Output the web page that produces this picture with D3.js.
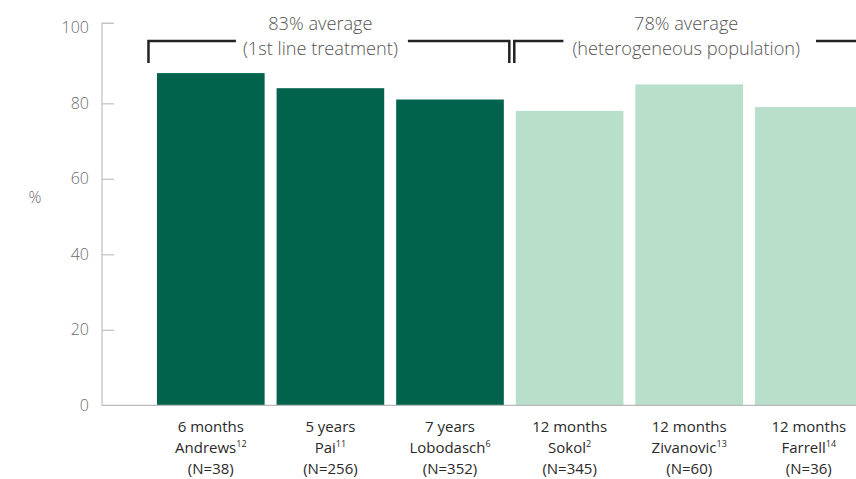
<!DOCTYPE html>
<html>
<head>
<meta charset="utf-8">
<script src="https://cdn.jsdelivr.net/npm/d3@7"></script>
<style>
  html, body { margin: 0; padding: 0; background: #fff; }
  svg { display: block; font-family: "Open Sans", sans-serif; }
</style>
</head>
<body>
<svg id="chart" width="856" height="479"></svg>
<script>
// ---- data ----
const durations = ["6 months", "5 years", "7 years", "12 months", "12 months", "12 months"];
const authors = ["Andrews", "Pai", "Lobodasch", "Sokol", "Zivanovic", "Farrell"];
const refs = ["12", "11", "6", "2", "13", "14"];
const sampleSizes = ["(N=38)", "(N=256)", "(N=352)", "(N=345)", "(N=60)", "(N=36)"];
const values = [88, 84, 81, 78, 85, 79];
const groups = [0, 0, 0, 1, 1, 1];
const yTicks = [0, 20, 40, 60, 80, 100];
const groupTitles = [["83% average", "(1st line treatment)"], ["78% average", "(heterogeneous population)"]];
const yLabel = "%";

// ---- layout ----
const svg = d3.select("#chart");
const colors = ["#02634d", "#b7dfc9"];
const idx = d3.range(values.length);

const x = d3.scaleBand().domain(idx).range([151, 151 + 6 * 119.6]).paddingInner(0.1).paddingOuter(0.05);
const y = d3.scaleLinear().domain([0, 100]).range([405.3, 27.8]);
const axisX = 102;

// bars
svg.append("g").selectAll("rect").data(idx).join("rect")
  .attr("x", i => x(i))
  .attr("y", i => y(values[i]))
  .attr("width", x.bandwidth())
  .attr("height", i => y(0) - y(values[i]))
  .attr("fill", i => colors[groups[i]]);

// y axis
const yAxis = d3.axisLeft(y).tickValues(yTicks).tickSizeInner(-12).tickSizeOuter(0).tickPadding(13);
const gy = svg.append("g").attr("transform", `translate(${axisX},0)`).call(yAxis);
gy.select(".domain").remove();
gy.selectAll(".tick line").attr("stroke", "#c4c4c4").attr("stroke-width", 1.3)
  .filter(d => d === 100 || d === 0).remove();
gy.selectAll(".tick text").attr("fill", "#6b6b6b").attr("font-size", 16).attr("font-weight", 300)
  .attr("font-family", "Open Sans, sans-serif");
gy.append("path").attr("d", `M12,${y(101.2)}H0V${y(0)}`).attr("fill", "none")
  .attr("stroke", "#c4c4c4").attr("stroke-width", 1.3);

// baseline
svg.append("line").attr("x1", axisX).attr("x2", 856).attr("y1", y(0)).attr("y2", y(0))
  .attr("stroke", "#b9b9b9").attr("stroke-width", 1.3);

// y label
svg.append("text").attr("x", 35).attr("y", 203).attr("text-anchor", "middle")
  .attr("font-size", 16).attr("font-weight", 300).attr("fill", "#6b6b6b").text(yLabel);

// x labels
const xl = svg.append("g").selectAll("g").data(idx).join("g")
  .attr("transform", i => `translate(${x(i) + x.bandwidth() / 2},0)`)
  .attr("font-size", 15).attr("fill", "#2a2a2a").attr("text-anchor", "middle");
xl.append("text").attr("y", 432).text(i => durations[i]);
const t2 = xl.append("text").attr("y", 453);
t2.append("tspan").text(i => authors[i]);
t2.append("tspan").attr("font-size", 9).attr("dy", -6).text(i => refs[i]);
xl.append("text").attr("y", 473.5).text(i => sampleSizes[i]);

// group brackets
const lineY = 41, tickBottom = 63;
const bracket = svg.append("g").attr("fill", "none").attr("stroke", "#222").attr("stroke-width", 2.5);
const hdr = svg.append("g").attr("font-size", 18.2).attr("font-weight", 300).attr("fill", "#555").attr("text-anchor", "middle");

function drawGroup(g, left, right, cx, gapL, gapR) {
  const t1 = hdr.append("text").attr("x", cx).attr("y", 30).text(groupTitles[g][0]);
  const t2 = hdr.append("text").attr("x", cx).attr("y", 55).text(groupTitles[g][1]);
  const w = Math.max(t1.node().getComputedTextLength(), t2.node().getComputedTextLength());
  bracket.append("path").attr("d", `M${left},${tickBottom}V${lineY}H${cx - w / 2 - gapL}`);
  bracket.append("path").attr("d", `M${cx + w / 2 + gapR},${lineY}H${right}` + (right < 856 ? `V${tickBottom}` : ""));
}
drawGroup(0, x(0) - 8.5, x(2) + x.bandwidth() + 5.5, x(1) + x.bandwidth() / 2 - 10, 7, 10);
drawGroup(1, x(3) - 1.5, 860, x(4) + x.bandwidth() / 2 - 3, 9, 16);
</script>
</body>
</html>
